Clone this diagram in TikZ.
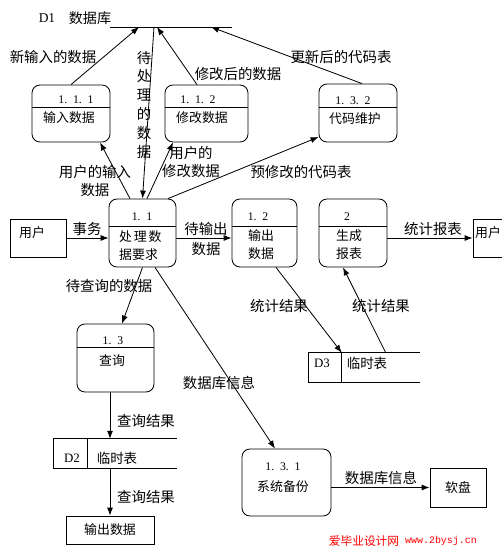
\documentclass[tikz,border=0pt]{standalone}
\usepackage{fontspec}
\newfontfamily\cjk{Noto Sans CJK SC}
\newfontfamily\numfont{Liberation Serif}
\newfontfamily\urlfont{Liberation Mono}
\usetikzlibrary{arrows.meta,calc}

\begin{document}
\begin{tikzpicture}[x=0.03cm,y=-0.03cm,
  proc/.style n args={2}{draw,line width=.7pt,rounded corners=2.4mm,minimum width=#1cm,minimum height=#2cm,inner sep=0pt},
  ent/.style n args={2}{draw,line width=.7pt,minimum width=#1cm,minimum height=#2cm,inner sep=0pt,font=\cjk\fontsize{11}{14}\selectfont},
  store/.style n args={2}{minimum width=#1cm,minimum height=#2cm,inner sep=0pt},
  flow/.style={line width=.7pt,-{Latex[length=2.4mm,width=1.8mm]}},
  lab/.style={font=\cjk\fontsize{12.3}{15.3}\selectfont,inner sep=0pt,align=center},
  btxt/.style={font=\cjk\fontsize{11}{15.3}\selectfont,inner sep=0pt,align=center},
  num/.style={font=\numfont\fontsize{10}{12}\selectfont,inner sep=0pt}]
\useasboundingbox (0,0) rectangle (501,557);

% data store D1
\coordinate (d1l) at (110,27);
\coordinate (d1r) at (232,27);
\draw[line width=.7pt] (d1l) -- (d1r);
\node[num,font=\numfont\fontsize{11.5}{13}\selectfont] (d1id) at (47,18) {D1};
\node[lab,font=\cjk\fontsize{12}{14}\selectfont] (d1name) at (90,18) {数据库};
\coordinate (d1a) at (139,27);
\coordinate (d1b) at (154,27);
\coordinate (d1c) at (157,27);
\coordinate (d1d) at (211,27);

% processes
\node[proc={2.34}{1.71}] (p111) at (71,113.5) {};
\node[proc={2.49}{1.71}] (p112) at (206.5,113.5) {};
\node[proc={2.34}{1.74}] (p132) at (358,113) {};
\node[proc={2.01}{2.04}] (p11) at (142.5,233) {};
\node[proc={1.95}{2.04}] (p12) at (264.5,233) {};
\node[proc={2.04}{2.04}] (p2) at (353,233) {};
\node[proc={2.31}{2.04}] (p13) at (115.5,358) {};
\node[proc={2.67}{2.01}] (p131) at (286.5,482.5) {};

\draw[line width=.7pt] ([yshift=-0.69cm]p111.north west) -- ([yshift=-0.69cm]p111.north east);
\draw[line width=.7pt] ([yshift=-0.69cm]p112.north west) -- ([yshift=-0.69cm]p112.north east);
\draw[line width=.7pt] ([yshift=-0.72cm]p132.north west) -- ([yshift=-0.72cm]p132.north east);
\draw[line width=.7pt] ([yshift=-0.84cm]p11.north west) -- ([yshift=-0.84cm]p11.north east);
\draw[line width=.7pt] ([yshift=-0.84cm]p12.north west) -- ([yshift=-0.84cm]p12.north east);
\draw[line width=.7pt] ([yshift=-0.84cm]p2.north west) -- ([yshift=-0.84cm]p2.north east);
\draw[line width=.7pt] ([yshift=-0.72cm]p13.north west) -- ([yshift=-0.72cm]p13.north east);

\node[num] (p111n) at (76,100) {1.~~1.~~1};
\node[btxt] (p111t) at (69,118) {输入数据};
\node[num] (p112n) at (198,100) {1.~~1.~~2};
\node[btxt] (p112t) at (202,118) {修改数据};
\node[num] (p132n) at (353,101) {1.~~3.~~2};
\node[btxt] (p132t) at (355,119) {代码维护};
\node[num] (p11n) at (142,217) {1.~~1};
\node[btxt,align=left,anchor=west] (p11t) at (119,246) {处\hspace{1.5pt}理\hspace{1.5pt}数\\据要求};
\node[num] (p12n) at (258,217) {1.~~2};
\node[btxt] (p12t) at (261,245) {输出\\数据};
\node[num] (p2n) at (347,217) {2};
\node[btxt] (p2t) at (349,245) {生成\\报表};
\node[num] (p13n) at (113,341) {1.~~3};
\node[btxt] (p13t) at (112,361) {查询};
\node[num] (p131n) at (283,467) {1.~~3.~~1};
\node[btxt] (p131t) at (283,487) {系统备份};

% external entities
\node[ent={1.68}{1.14}] (u1) at (38,238) {};
\node[btxt] (u1t) at (32,233) {用户};
\node[ent={1.68}{1.14}] (u2) at (501,238) {};
\node[btxt] (u2t) at (488,233) {用户};
\node[ent={2.64}{0.84}] (out) at (110,530) {输出数据};
\node[ent={1.68}{1.17}] (disk) at (458,487.5) {软盘};

% data stores D2, D3
\node[store={3.69}{0.87}] (d2) at (115.5,453.5) {};
\draw[line width=.7pt] (d2.north east) -- (d2.north west) -- (d2.south west) -- (d2.south east);
\draw[line width=.7pt] ([xshift=1.02cm]d2.north west) -- ([xshift=1.02cm]d2.south west);
\node[num,font=\numfont\fontsize{11}{13}\selectfont] (d2id) at (72,458) {D2};
\node[btxt,font=\cjk\fontsize{11.5}{14}\selectfont] (d2t) at (117,458) {临时表};

\node[store={3.33}{0.87}] (d3) at (364.5,367.5) {};
\draw[line width=.7pt] (d3.north east) -- (d3.north west) -- (d3.south west) -- (d3.south east);
\draw[line width=.7pt] ([xshift=0.99cm]d3.north west) -- ([xshift=0.99cm]d3.south west);
\node[num,font=\numfont\fontsize{11}{13}\selectfont] (d3id) at (322,363) {D3};
\node[btxt,font=\cjk\fontsize{11.5}{14}\selectfont] (d3t) at (367,363) {临时表};

% data flows
\draw[flow] (p111.north) -- (d1a);
\draw[flow] (d1b) -- (p11.north);
\draw[flow] ([xshift=-0.285cm]p112.north) -- (d1c);
\draw[flow] ([xshift=0.12cm]p132.north) -- (d1d);
\draw[flow] ([xshift=-0.375cm]p11.north) -- ([xshift=0.87cm]p111.south);
\draw[flow] ([xshift=0.135cm]p11.north) -- ([xshift=-1.005cm]p112.south);
\draw[flow] ([xshift=0.765cm]p11.north) -- ([yshift=-0.72cm]p132.west);
\draw[flow] (u1.east) -- (u1.east -| p11.west);
\draw[flow] ([yshift=-0.15cm]p11.east) -- ([yshift=-0.15cm]p12.west);
\draw[flow] (p2.east |- u2.west) -- (u2.west);
\draw[flow] ([xshift=0.345cm]p12.south) -- ([xshift=0.99cm]d3.north west);
\draw[flow] ([xshift=2.31cm]d3.north west) -- ([xshift=-0.3cm]p2.south);
\draw[flow] (p11.south) -- ([xshift=0.195cm]p13.north);
\draw[flow] ([xshift=0.375cm]p11.south) -- ([xshift=-0.345cm]p131.north);
\draw[flow] ([xshift=-0.165cm]p13.south) -- ([xshift=-0.165cm]p13.south |- d2.north);
\draw[flow] (out.north |- d2.south) -- (out.north);
\draw[flow] (p131.east |- disk.west) -- (disk.west);

% flow labels
\node[lab] (l1) at (53,57) {新输入的数据};
\node[lab,font=\cjk\fontsize{12.3}{16.2}\selectfont] (l2) at (144,105) {待\\处\\理\\的\\数\\据};
\node[lab] (l3) at (238,74) {修改后的数据};
\node[lab] (l4) at (341,57) {更新后的代码表};
\node[lab] (l5) at (95,181) {用户的输入\\数据};
\node[lab] (l6) at (191,162) {用户的\\修改数据};
\node[lab] (l7) at (301,172) {预修改的代码表};
\node[lab] (l8) at (87,229) {事务};
\node[lab,font=\cjk\fontsize{12.3}{17}\selectfont] (l9) at (206,239) {待输出\\数据};
\node[lab] (l10) at (433,229) {统计报表};
\node[lab] (l11) at (279,306) {统计结果};
\node[lab] (l12) at (381,306) {统计结果};
\node[lab] (l13) at (109,286) {待查询的数据};
\node[lab] (l14) at (219,383) {数据库信息};
\node[lab] (l15) at (146,421) {查询结果};
\node[lab] (l16) at (146,497) {查询结果};
\node[lab] (l17) at (381,478) {数据库信息};

\node[lab,text=red,font=\cjk\fontsize{10}{12}\selectfont] (wm1) at (364,541) {爱毕业设计网};
\node[lab,text=red,font=\urlfont\fontsize{8.5}{10}\selectfont] (wm2) at (441,541) {www.2bysj.cn};
\end{tikzpicture}
\end{document}
